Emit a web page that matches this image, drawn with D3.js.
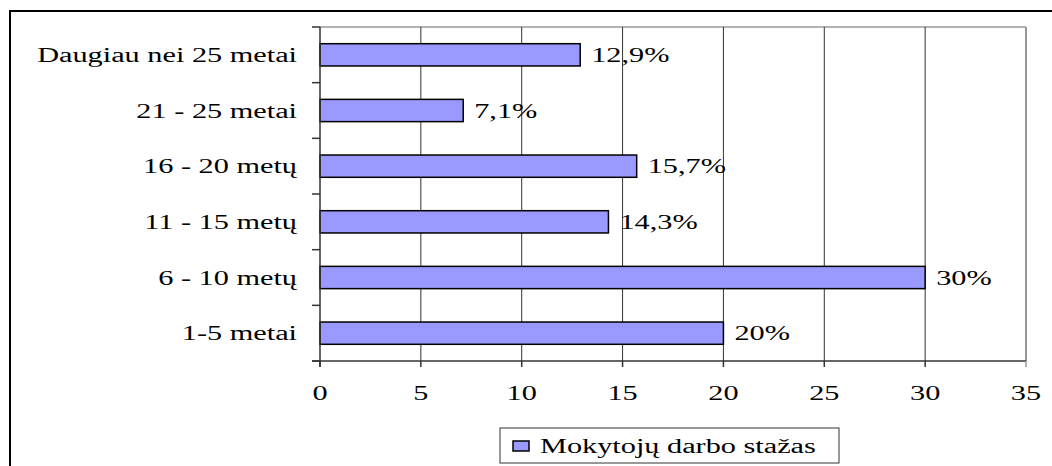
<!DOCTYPE html>
<html>
<head>
<meta charset="utf-8">
<script src="https://cdn.jsdelivr.net/npm/d3@7"></script>
<style>
  body { margin: 0; background: #fff; }
</style>
</head>
<body>
<svg id="chart" width="1052" height="466"></svg>
<script>
// data, bottom category first as in the picture
const categories = ["1-5 metai", "6 - 10 metų", "11 - 15 metų", "16 - 20 metų", "21 - 25 metai", "Daugiau nei 25 metai"];
const values = [20, 30, 14.3, 15.7, 7.1, 12.9];
const valueLabels = ["20%", "30%", "14,3%", "15,7%", "7,1%", "12,9%"];
const xTicks = [0, 5, 10, 15, 20, 25, 30, 35];
const seriesName = "Mokytojų darbo stažas";

const svg = d3.select('#chart');
const plot = { left: 320, right: 1026, top: 27, bottom: 361 };
const fontFamily = "'Liberation Serif', 'Times New Roman', Times, serif";
const fontSize = 20;

// the source text is pulled wide: fit the longest label to its width in the picture
let probe = svg.append('text')
    .attr('font-family', fontFamily)
    .attr('font-size', fontSize)
    .text(categories[5]);
const stretch = 260 / probe.node().getComputedTextLength();
probe.remove();

// outer frame (only left and top are inside the picture)
svg.append('path')
    .attr('d', 'M10,1000 L10,11 L1100,11')
    .attr('fill', 'none')
    .attr('stroke', '#000')
    .attr('stroke-width', 2);

let x = d3.scaleLinear().domain([0, 35]).range([plot.left, plot.right]);
let y = d3.scaleBand()
    .domain(categories.slice().reverse())
    .range([plot.top, plot.bottom])
    .paddingInner(0.6)
    .paddingOuter(0.3);

// plot frame top / right
svg.append('line')
    .attr('x1', plot.left).attr('x2', plot.right)
    .attr('y1', plot.top).attr('y2', plot.top)
    .attr('stroke', '#999').attr('stroke-width', 1.5);
svg.append('line')
    .attr('x1', plot.right).attr('x2', plot.right)
    .attr('y1', plot.top).attr('y2', plot.bottom)
    .attr('stroke', '#999').attr('stroke-width', 2);

// vertical gridlines
svg.append('g').selectAll('line')
    .data(xTicks.slice(1, -1))
    .enter()
    .append('line')
    .attr('x1', d => x(d)).attr('x2', d => x(d))
    .attr('y1', plot.top).attr('y2', plot.bottom)
    .attr('stroke', '#333').attr('stroke-width', 1);

// bars
svg.append('g').selectAll('rect')
    .data(categories)
    .enter()
    .append('rect')
    .attr('x', x(0))
    .attr('y', d => y(d))
    .attr('width', (d, i) => x(values[i]) - x(0))
    .attr('height', y.bandwidth())
    .attr('fill', '#9999ff')
    .attr('stroke', '#000')
    .attr('stroke-width', 1.5);

function stretchedText(g, tx, ty, str, anchor) {
    g.append('g')
        .attr('transform', 'translate(' + tx + ',' + ty + ') scale(' + stretch + ',1)')
        .append('text')
        .attr('text-anchor', anchor)
        .attr('font-family', fontFamily)
        .attr('font-size', fontSize)
        .attr('fill', '#000')
        .text(str);
}

// value labels
let lbl = svg.append('g');
categories.forEach((c, i) => {
    stretchedText(lbl, x(values[i]) + 11, y(c) + y.bandwidth() / 2 + 7, valueLabels[i], 'start');
});

// y axis: line, ticks at band boundaries, labels
let step = (plot.bottom - plot.top) / categories.length;
let yAxis = svg.append('g');
yAxis.append('line')
    .attr('x1', plot.left).attr('x2', plot.left)
    .attr('y1', plot.top).attr('y2', plot.bottom + 6)
    .attr('stroke', '#333').attr('stroke-width', 1.5);
yAxis.selectAll('.ytick')
    .data(d3.range(categories.length + 1))
    .enter()
    .append('line')
    .attr('x1', plot.left - 8).attr('x2', plot.left)
    .attr('y1', i => plot.top + i * step).attr('y2', i => plot.top + i * step)
    .attr('stroke', '#333').attr('stroke-width', 1.5);
categories.forEach(c => {
    stretchedText(yAxis, 297, y(c) + y.bandwidth() / 2 + 7, c, 'end');
});

// x axis
let xAxis = svg.append('g');
xAxis.append('line')
    .attr('x1', plot.left - 8).attr('x2', plot.right)
    .attr('y1', plot.bottom).attr('y2', plot.bottom)
    .attr('stroke', '#333').attr('stroke-width', 1.5);
xAxis.selectAll('.xtick')
    .data(xTicks)
    .enter()
    .append('line')
    .attr('x1', d => x(d)).attr('x2', d => x(d))
    .attr('y1', plot.bottom).attr('y2', plot.bottom + 6)
    .attr('stroke', d => d === 35 ? '#999' : '#333').attr('stroke-width', 1.5);
xTicks.forEach(t => {
    stretchedText(xAxis, x(t), 400, String(t), 'middle');
});

// legend
let legend = svg.append('g');
legend.append('rect')
    .attr('x', 500).attr('y', 428)
    .attr('width', 339).attr('height', 35)
    .attr('fill', '#fff').attr('stroke', '#333').attr('stroke-width', 1);
legend.append('rect')
    .attr('x', 513).attr('y', 441)
    .attr('width', 16).attr('height', 10)
    .attr('fill', '#9999ff').attr('stroke', '#000').attr('stroke-width', 1.5);
stretchedText(legend, 540, 453, seriesName, 'start');
</script>
</body>
</html>
